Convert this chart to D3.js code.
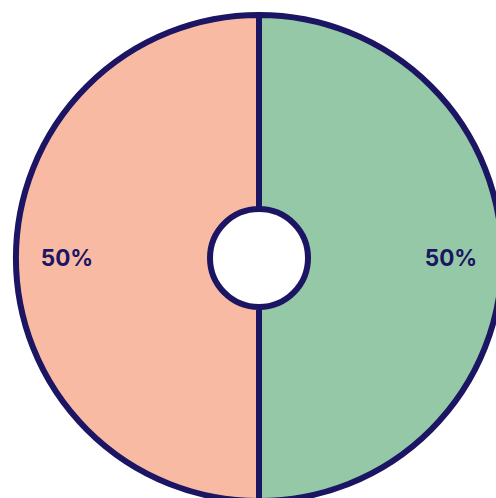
<!DOCTYPE html>
<html>
<head>
<meta charset="utf-8">
<script src="https://cdn.jsdelivr.net/npm/d3@7"></script>
<style>
  html, body { margin: 0; padding: 0; background: #fff; }
</style>
</head>
<body>
<div id="chart"></div>
<script>
const categories = ["Right", "Left"];
const values = [50, 50];
const sliceColors = ["#94C8A6", "#F9BAA3"];

const width = 496, height = 498;
const svg = d3.select("#chart").append("svg")
  .attr("width", width)
  .attr("height", height);

const cx = 259, cy = 258;
const outer = 243, inner = 49;

const pie = d3.pie().sort(null).value(d => d.value);
const slices = pie(categories.map((c, i) => ({ name: c, value: values[i] })));

const arc = d3.arc().innerRadius(inner).outerRadius(outer);
const labelArc = d3.arc().innerRadius(192).outerRadius(192);

const g = svg.append("g").attr("transform", `translate(${cx},${cy})`);

g.selectAll("path")
  .data(slices)
  .enter()
  .append("path")
    .attr("d", arc)
    .attr("fill", (d, i) => sliceColors[i])
    .attr("stroke", "#1B1563")
    .attr("stroke-width", 6)
    .attr("stroke-linejoin", "miter");

g.selectAll("text")
  .data(slices)
  .enter()
  .append("text")
    .attr("transform", d => `translate(${labelArc.centroid(d)})`)
    .attr("text-anchor", "middle")
    .attr("dy", "0.36em")
    .style("font-family", "Inter, 'Noto Sans', sans-serif")
    .style("font-weight", 700)
    .style("font-size", "22.5px")
    .style("fill", "#1B1563")
    .text(d => Math.round(d.data.value / d3.sum(values) * 100) + "%");
</script>
</body>
</html>
